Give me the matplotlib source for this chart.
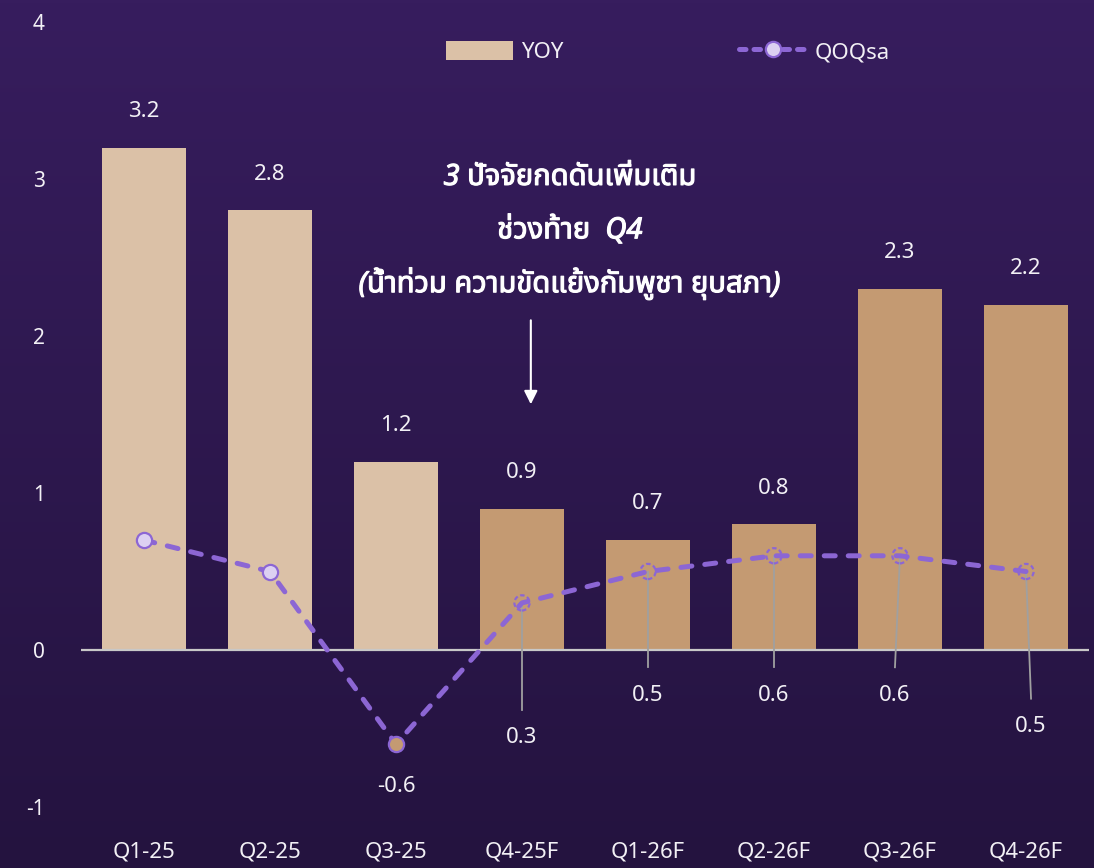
import numpy as np
import matplotlib
matplotlib.use("Agg")
import matplotlib.pyplot as plt
import matplotlib.patheffects as pe
from matplotlib.colors import LinearSegmentedColormap
from matplotlib.patches import Patch
from matplotlib.lines import Line2D

plt.rcParams['font.family'] = ['Noto Sans', 'Noto Sans Thai', 'DejaVu Sans']

# data
quarters = ['Q1-25', 'Q2-25', 'Q3-25', 'Q4-25F', 'Q1-26F', 'Q2-26F', 'Q3-26F', 'Q4-26F']
yoy = [3.2, 2.8, 1.2, 0.9, 0.7, 0.8, 2.3, 2.2]
qoq = [0.7, 0.5, -0.6, 0.3, 0.5, 0.6, 0.6, 0.5]
is_forecast = [False, False, False, True, True, True, True, True]
note_lines = ['3 ปัจจัยกดดันเพิ่มเติม', 'ช่วงท้าย  Q4', '(น้ำท่วม ความขัดแย้งกัมพูชา ยุบสภา)']

# layout for the QOQ value labels (None = no leader / no label)
label_y = [None, None, -0.87, -0.56, -0.29, -0.29, -0.29, -0.49]
leader_end = [None, None, None, -0.38, -0.11, -0.11, -0.11, -0.31]
leader_dx = [0, 0, 0, 0, 0, 0, -0.04, 0.04]

c_light = '#dbc1a7'
c_dark = '#c49a72'
c_line = '#8c66d4'
c_mark = '#dcd0f2'
c_text = '#f2f0f5'

fig = plt.figure(figsize=(10.94, 8.68), dpi=100)

# gradient background
bg = fig.add_axes([0, 0, 1, 1], zorder=-10)
cmap = LinearSegmentedColormap.from_list('bg', ['#24133f', '#371d5e'])
bg.imshow(np.linspace(0, 1, 256).reshape(-1, 1), aspect='auto', cmap=cmap, origin='lower',
          extent=[0, 1, 0, 1])
bg.axis('off')

ax = fig.add_axes([81 / 1094, 1 - 807 / 868, 1008 / 1094, 785 / 868])
ax.patch.set_alpha(0)
x = np.arange(len(quarters))
colors = [c_dark if f else c_light for f in is_forecast]
ax.bar(x, yoy, width=0.667, color=colors, zorder=2)
for i, v in enumerate(yoy):
    ax.text(i, v + 0.23, f'{v:.1f}', ha='center', va='center', color=c_text, fontsize=16)

ax.axhline(0, color='#c8c8c8', lw=1.6, zorder=3)

# leader lines
for i, q in enumerate(qoq):
    if leader_end[i] is not None:
        ax.plot([i, i + leader_dx[i]], [q, leader_end[i]], color='#a0a0a0', lw=1.3, zorder=3)

dash = (0, (2.2, 2.6))
ax.plot(x, qoq, color=c_line, lw=3.6, ls=dash, dash_capstyle='round', zorder=4)
ax.scatter(x[:2], qoq[:2], s=120, facecolor=c_mark, edgecolor=c_line, lw=1.6, zorder=5)
ax.scatter(x[2:3], qoq[2:3], s=120, facecolor=c_dark, edgecolor=c_line, lw=1.6, zorder=5)
ax.scatter(x[3:], qoq[3:], s=120, facecolor='none', edgecolor=c_line, lw=1.6,
           linestyle=(0, (2, 1.2)), zorder=5)

for i, q in enumerate(qoq):
    if label_y[i] is not None:
        ax.text(i + leader_dx[i], label_y[i], f'{q:.1f}', ha='center', va='center',
                color=c_text, fontsize=16)

# annotation
for k, line in enumerate(note_lines):
    ax.text(3.38, 3.01 - k * 0.34, line, ha='center', va='center', color='white',
            fontsize=21, fontweight='bold', fontstyle='italic',
            path_effects=[pe.withStroke(linewidth=0.8, foreground='white')])
ax.annotate('', xy=(3.07, 1.565), xytext=(3.07, 2.1),
            arrowprops=dict(arrowstyle='-|>', color='white', lw=1.5, mutation_scale=20,
                            shrinkA=0, shrinkB=0))

ax.set_xlim(-0.5, 7.5)
ax.set_ylim(-1, 4)
ax.set_yticks([-1, 0, 1, 2, 3, 4])
ax.set_yticklabels(['-1', '0', '1', '2', '3', '4'])
ax.set_xticks(x)
ax.set_xticklabels(quarters)
ax.tick_params(axis='y', length=0, pad=26, labelsize=15, labelcolor=c_text)
ax.tick_params(axis='x', length=0, pad=25, labelsize=16, labelcolor=c_text)
for s in ax.spines.values():
    s.set_visible(False)

# legend
h1 = Patch(facecolor=c_light, edgecolor='none')
h2 = Line2D([], [], color=c_line, lw=3.6, ls=(0, (1.3, 1.6)), dash_capstyle='round',
            marker='o', markersize=11, markerfacecolor=c_mark, markeredgecolor=c_line,
            markeredgewidth=1.6)
fig.legend([h1, h2], ['YOY', 'QOQsa'], loc='center', bbox_to_anchor=(668 / 1094, 1 - 52 / 868),
           ncol=2, frameon=False, fontsize=16, labelcolor=c_text, handlelength=3.0,
           handleheight=0.95, handletextpad=0.4, columnspacing=7.9)

fig.savefig('out.png', dpi=100)
